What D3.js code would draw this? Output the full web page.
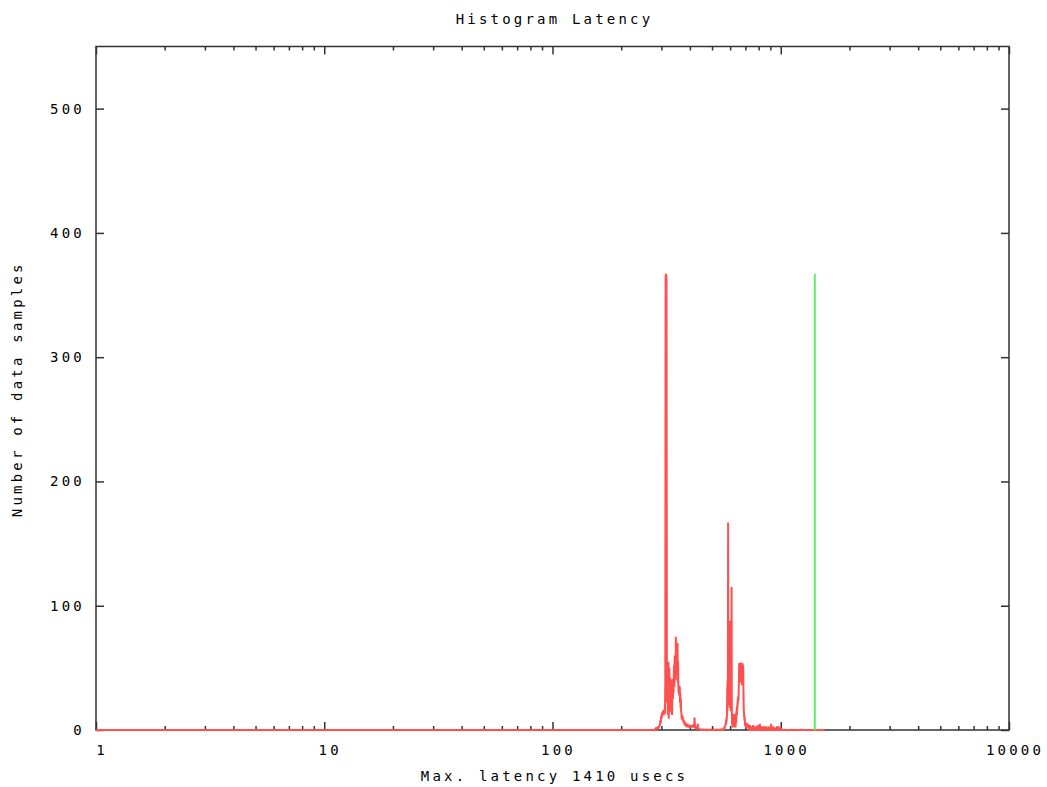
<!DOCTYPE html>
<html>
<head>
<meta charset="utf-8">
<title>Histogram Latency</title>
<script src="https://cdn.jsdelivr.net/npm/d3@7/dist/d3.min.js"></script>
<style>
  html, body { margin: 0; padding: 0; background: #fff; }
  svg { display: block; }
  .lbl { font-family: "DejaVu Sans Mono", "Liberation Mono", monospace; font-size: 14px; letter-spacing: 3.2px; fill: #000; }
</style>
</head>
<body>
<svg id="chart" width="1047" height="787"></svg>
<script>
// Latency histogram, one bin per microsecond. Bins that are not listed hold zero samples.
const firstBin = 1;
const lastBin = 1560;
const maxLatency = 1410;

// First cluster, consecutive bins starting at 281 us
const clusterAStart = 281;
const clusterACounts = [
  1, 0, 1, 2, 1, 0, 2, 1, 3, 2, 1, 3, 2, 4, 3,                     // 281-295
  6, 8, 5, 10, 12, 9, 14, 11, 15, 13, 16, 12, 15, 14, 17, 13, 40,  // 296-312
  365, 367, 366, 362,                                              // 313-316
  56, 22, 48, 12, 40, 55, 9, 35, 50, 15,                           // 317-326
  38, 42, 20, 36, 14, 40, 28, 12, 33, 41, 25, 38, 30, 45,          // 327-340
  52, 35, 60, 48, 56, 40, 75, 55, 62, 44, 58, 50, 70, 38, 55, 35, 30, 33, 28, 35, // 341-360
  35, 22, 30, 18, 25, 15,                                          // 361-366
  14, 9, 12, 8, 11, 10, 7, 9, 6, 8,                                // 367-376
  6, 5, 7, 4, 5, 3, 6, 4, 5, 3, 4, 2, 4, 3, 5, 2, 3, 4, 2, 3, 2, 4, 3, 2, // 377-400
  3, 2, 4, 3, 2, 3, 4, 2, 3, 2, 4, 3, 2, 3, 2, 5, 3, 4, 10, 6,     // 401-420
  3, 2, 1, 2, 3, 1, 2, 1, 1, 2, 1, 4, 5, 2, 1, 1, 0, 1, 1, 0, 1    // 421-441
];

// Second cluster, consecutive bins starting at 560 us
const clusterBStart = 560;
const clusterBCounts = [
  1, 0, 1, 2, 0, 1, 2, 1, 2, 3, 2, 4, 3, 5, 4,                     // 560-574
  6, 8, 5, 10, 7, 9, 12,                                           // 575-581
  20, 35, 15, 40, 25, 60,                                          // 582-587
  167,                                                             // 588
  88, 40, 85, 30, 80, 20, 75, 45, 88, 18, 70, 35, 85, 25, 65, 15, 78, 40, 88, 60, // 589-608
  115,                                                             // 609
  30, 13, 5, 11, 2, 9, 13, 4, 10, 3, 12,                           // 610-620
  6, 11, 2, 13, 8, 4, 12, 7, 3, 10, 13, 5, 9, 2, 11, 8, 13, 6, 15, 10, // 621-640
  14, 18, 12, 20, 16, 22, 19, 25, 21, 27, 23, 26, 24, 30, 35, 42,  // 641-656
  50, 54, 46, 53, 40, 54, 48, 52, 38, 54, 50, 45, 53, 42, 51, 54, 47, 50, 36, 52,
  49, 54, 44, 50, 53, 40, 48, 52, 46, 35,                          // 657-686
  28, 20, 13, 15, 10, 12, 8, 11, 7, 9,                             // 687-696
  5, 4, 6, 3, 5, 4, 2, 5, 3, 4, 6, 3, 5, 2, 4, 3, 5, 4, 2, 3, 5, 3, 2, 4, 3, 2 // 697-722
];

// Isolated occupied bins outside the two clusters
const strayUsec = [
  448, 461, 476, 493, 509, 527, 544, 556,
  726, 730, 735, 739, 743, 748, 752, 757, 761, 766,
  770, 775, 779, 784, 789, 793, 798, 803, 808, 810,
  816, 822, 828, 834, 840, 846, 852, 858, 865, 872,
  879, 886, 893, 900, 907, 914, 921, 929, 937, 945,
  953, 961, 969, 978, 987, 996, 1012, 1050, 1120, 1230,
  1410
];
const strayCount = [
  1, 1, 1, 1, 1, 1, 1, 1,
  3, 2, 4, 3, 2, 3, 2, 4, 2, 3,
  2, 3, 2, 3, 2, 4, 2, 3, 2, 5,
  2, 3, 2, 3, 2, 3, 2, 2, 3, 2,
  2, 3, 2, 2, 5, 2, 2, 3, 2, 2,
  2, 3, 2, 3, 2, 2, 1, 1, 1, 1,
  1
];

const xTickValues = [1, 10, 100, 1000, 10000];
const yTickValues = [0, 100, 200, 300, 400, 500];

// ---- assemble bin table ----
const countByBin = new Map();
clusterACounts.forEach((c, i) => countByBin.set(clusterAStart + i, c));
clusterBCounts.forEach((c, i) => countByBin.set(clusterBStart + i, c));
strayUsec.forEach((u, i) => countByBin.set(u, strayCount[i]));
const bins = d3.range(firstBin, lastBin + 1).map(u => ({ usec: u, count: countByBin.get(u) || 0 }));
const peakCount = d3.max(bins, d => d.count);

// ---- layout ----
const svg = d3.select("#chart");
const plotL = 96, plotR = 1009, plotT = 46.5, plotB = 730;

const x = d3.scaleLog().domain([1, 10000]).range([plotL, plotR]);
const y = d3.scaleLinear().domain([0, 550]).range([plotB, plotT]);

const minorTicks = [];
[1, 10, 100, 1000].forEach(dec => { for (let k = 2; k <= 9; k++) minorTicks.push(dec * k); });

const axisColor = "#333";

function styleAxis(g) {
  g.select(".domain").remove();
  g.selectAll(".tick line").attr("stroke", axisColor).attr("stroke-width", 1.5);
  g.selectAll("text").remove();
}

// bottom axis (ticks pointing inward)
svg.append("g").attr("transform", `translate(0,${plotB})`)
  .call(d3.axisBottom(x).tickValues(xTickValues).tickSize(-8).tickFormat(""))
  .call(styleAxis);
svg.append("g").attr("transform", `translate(0,${plotB})`)
  .call(d3.axisBottom(x).tickValues(minorTicks).tickSize(-4).tickFormat(""))
  .call(styleAxis);
// top mirror
svg.append("g").attr("transform", `translate(0,${plotT})`)
  .call(d3.axisTop(x).tickValues(xTickValues).tickSize(-8).tickFormat(""))
  .call(styleAxis);
svg.append("g").attr("transform", `translate(0,${plotT})`)
  .call(d3.axisTop(x).tickValues(minorTicks).tickSize(-4).tickFormat(""))
  .call(styleAxis);
// left and right
svg.append("g").attr("transform", `translate(${plotL},0)`)
  .call(d3.axisLeft(y).tickValues(yTickValues).tickSize(-8).tickFormat(""))
  .call(styleAxis);
svg.append("g").attr("transform", `translate(${plotR},0)`)
  .call(d3.axisRight(y).tickValues(yTickValues).tickSize(-8).tickFormat(""))
  .call(styleAxis);

// tick labels
svg.append("g").selectAll("text").data(xTickValues).join("text")
  .attr("class", "lbl")
  .attr("x", d => x(d) + 6)
  .attr("y", 755)
  .attr("text-anchor", "middle")
  .text(d => d);

svg.append("g").selectAll("text").data(yTickValues).join("text")
  .attr("class", "lbl")
  .attr("x", 85)
  .attr("y", d => y(d) + 5)
  .attr("text-anchor", "end")
  .text(d => d);

// frame
svg.append("rect")
  .attr("x", plotL).attr("y", plotT)
  .attr("width", plotR - plotL).attr("height", plotB - plotT)
  .attr("fill", "none").attr("stroke", axisColor).attr("stroke-width", 1.5);

// histogram line
const line = d3.line().x(d => x(d.usec)).y(d => y(d.count));
svg.append("path")
  .datum(bins)
  .attr("d", line)
  .attr("fill", "none")
  .attr("stroke", "#ff5050")
  .attr("stroke-width", 2)
  .attr("stroke-linejoin", "bevel");

// maximum latency marker
svg.append("path")
  .datum([{ usec: maxLatency, count: 0 }, { usec: maxLatency, count: peakCount }])
  .attr("d", line)
  .attr("fill", "none")
  .attr("stroke", "#62ee62")
  .attr("stroke-width", 2);

// titles
svg.append("text").attr("class", "lbl")
  .attr("x", (plotL + plotR) / 2 + 2).attr("y", 24)
  .attr("text-anchor", "middle")
  .text("Histogram Latency");

svg.append("text").attr("class", "lbl")
  .attr("x", (plotL + plotR) / 2 + 2).attr("y", 781)
  .attr("text-anchor", "middle")
  .text(`Max. latency ${maxLatency} usecs`);

svg.append("text").attr("class", "lbl")
  .attr("transform", `translate(22,${(plotT + plotB) / 2 + 1}) rotate(-90)`)
  .attr("text-anchor", "middle")
  .text("Number of data samples");
</script>
</body>
</html>
